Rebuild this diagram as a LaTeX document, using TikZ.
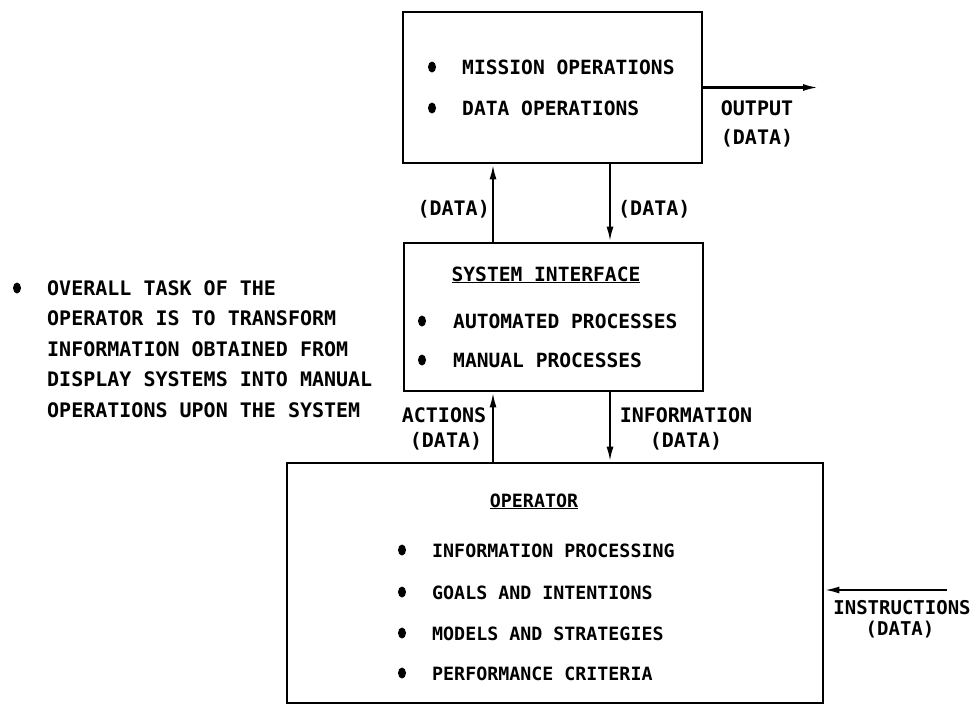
\documentclass[tikz,border=0pt]{standalone}
\usepackage{fontspec}
\setmainfont{DejaVu Sans Mono}
\usetikzlibrary{arrows.meta}
\begin{document}
\begin{tikzpicture}[x=1pt,y=-1pt,
  box/.style={draw, line width=2.8pt, inner sep=0pt},
  txt/.style={inner sep=0pt, anchor=base west, font=\bfseries\fontsize{19.6}{24}\selectfont},
  txtsm/.style={inner sep=0pt, anchor=base west, font=\bfseries\fontsize{18.3}{24}\selectfont},
  lbl/.style={inner sep=0pt, anchor=base, font=\bfseries\fontsize{20}{24}\selectfont},
  lblsm/.style={inner sep=0pt, anchor=base, font=\bfseries\fontsize{19}{24}\selectfont},
  arr/.style={line width=2.2pt, -{Latex[length=15pt,width=7pt]}},
  bul/.style={fill=black}]
\useasboundingbox (0,0) rectangle (974,705);
% boxes
\node[box, minimum width=299pt, minimum height=151pt] (mission) at (552.5,87.5) {};
\node[box, minimum width=299pt, minimum height=148pt] (iface) at (553.5,317) {};
\node[box, minimum width=536pt, minimum height=240pt] (oper) at (555,583) {};
% mission box text
\fill[bul] (432,67) ellipse [x radius=4, y radius=5.5];
\fill[bul] (432,108) ellipse [x radius=4, y radius=5.5];
\node[txt] (m1) at (462,74) {MISSION OPERATIONS};
\node[txt] (m2) at (462,115) {DATA OPERATIONS};
% interface box text
\node[lbl, font=\bfseries\fontsize{19.6}{24}\selectfont] (ifh) at (546,281) {\underline{SYSTEM INTERFACE}};
\fill[bul] (422,321) ellipse [x radius=4, y radius=5.5];
\fill[bul] (422,360) ellipse [x radius=4, y radius=5.5];
\node[txt] (i1) at (453,328) {AUTOMATED PROCESSES};
\node[txt] (i2) at (453,367) {MANUAL PROCESSES};
% operator box text
\node[lbl, font=\bfseries\fontsize{18.3}{24}\selectfont] (oph) at (534,507) {\underline{OPERATOR}};
\foreach \yy/\tt [count=\i] in {550/INFORMATION PROCESSING, 592/GOALS AND INTENTIONS, 633/MODELS AND STRATEGIES, 673/PERFORMANCE CRITERIA}{
  \fill[bul] (402,\yy) ellipse [x radius=4, y radius=5.5];
  \node[txtsm] (o\i) at (432,\yy+7) {\tt};
}
% left note
\fill[bul] (17,288) ellipse [x radius=4, y radius=5.5];
\foreach \yy/\tt [count=\i] in {288/OVERALL TASK OF THE, 318.5/OPERATOR IS TO TRANSFORM, 349/INFORMATION OBTAINED FROM, 379.5/DISPLAY SYSTEMS INTO MANUAL, 410/OPERATIONS UPON THE SYSTEM}{
  \node[txt, font=\bfseries\fontsize{20}{24}\selectfont] (n\i) at (47,\yy+7) {\tt};
}
% connector coordinates
\coordinate (cu) at (493,0);
\coordinate (cd) at (610,0);
\coordinate (outend) at (818,87.5);
\coordinate (instart) at (947,590);
% connectors
\draw[arr] (mission.east) -- (outend);
\draw[arr] (iface.north -| cu) -- (mission.south -| cu);
\draw[arr] (mission.south -| cd) -- (iface.north -| cd);
\draw[arr] (oper.north -| cu) -- (iface.south -| cu);
\draw[arr] (iface.south -| cd) -- (oper.north -| cd);
\draw[arr] (instart) -- (instart -| oper.east);
% labels
\node[lbl] (out1) at (757,115) {OUTPUT};
\node[lbl] (out2) at (757,144) {(DATA)};
\node[lbl, anchor=base east] (d1) at (490,215) {(DATA)};
\node[lbl, anchor=base west] (d2) at (618,215) {(DATA)};
\node[lbl] (a1) at (444,422) {ACTIONS};
\node[lbl] (a2) at (446,447) {(DATA)};
\node[lbl] (f1) at (686,422) {INFORMATION};
\node[lbl] (f2) at (686,447) {(DATA)};
\node[lblsm] (s1) at (902,614) {INSTRUCTIONS};
\node[lblsm] (s2) at (900,635) {(DATA)};
\end{tikzpicture}
\end{document}
